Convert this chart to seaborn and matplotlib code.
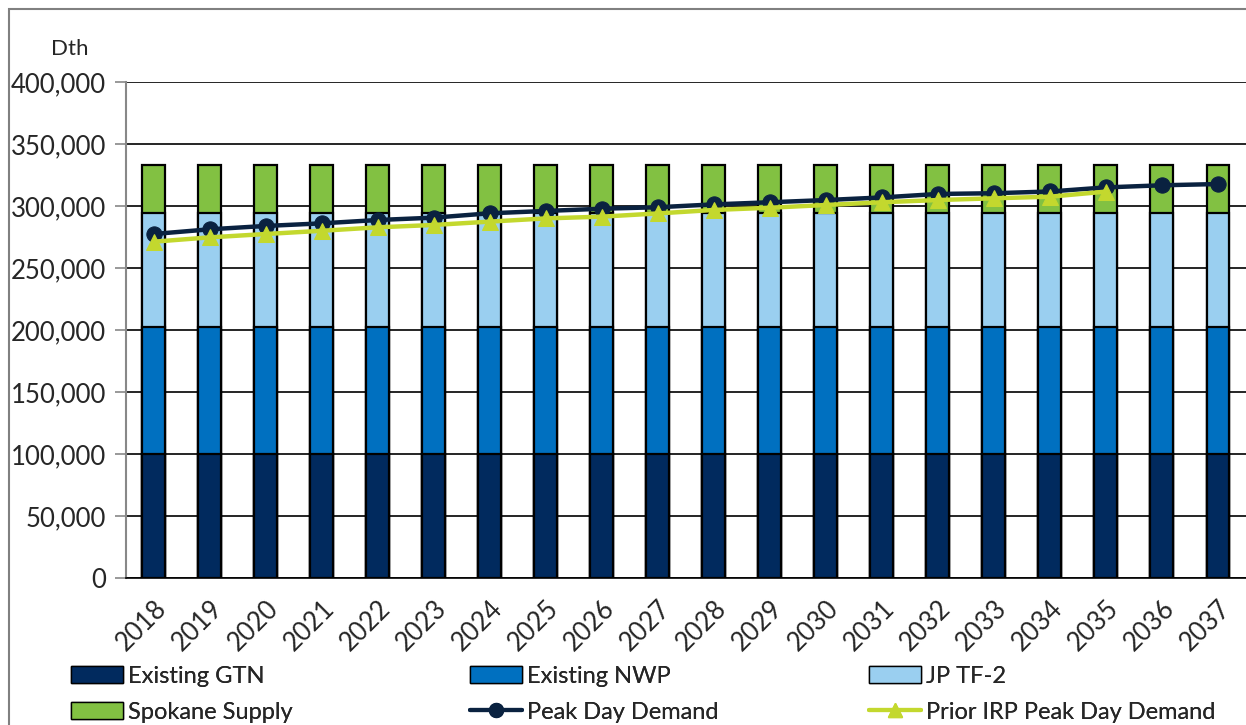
import numpy as np
import pandas as pd
import matplotlib
matplotlib.use('Agg')
import matplotlib.pyplot as plt
from matplotlib.patches import Patch, Rectangle
from matplotlib.lines import Line2D
from matplotlib.ticker import FuncFormatter
import seaborn as sns

# %%
years = [str(y) for y in range(2018, 2038)]
gtn = [100000] * 20
nwp = [102400] * 20
jp_tf2 = [91700] * 20
spokane = [38900] * 20
peak_day = [277400, 281200, 283900, 286000, 288700, 290600, 294100, 296000, 297800, 299000,
            301300, 303000, 304800, 306900, 309700, 310300, 311700, 315000, 316700, 317700]
prior_irp = [271200, 274700, 277400, 280000, 282800, 284700, 287400, 290000, 291400, 294000,
             296800, 298600, 300800, 303000, 304800, 306200, 307500, 311600]

c_gtn, c_nwp, c_jp, c_spk = '#012A5E', '#0070C0', '#9ACFF0', '#82C142'
c_peak, c_prior = '#0A2240', '#C3D82E'

df = pd.DataFrame({'year': years, 'gtn': gtn, 'nwp': nwp, 'jp': jp_tf2, 'spk': spokane})
df['s1'] = df['gtn']
df['s2'] = df['s1'] + df['nwp']
df['s3'] = df['s2'] + df['jp']
df['s4'] = df['s3'] + df['spk']

# %%
sns.set_style('white')
plt.rcParams['font.family'] = ['Lato', 'DejaVu Sans']

fig = plt.figure(figsize=(12.46, 7.25), dpi=100)
ax = fig.add_axes([0.1009, 0.2028, 0.8991, 0.6841])
ax.set_axisbelow(True)
ax.yaxis.grid(True, color='black', lw=1.2)

# stacked bars: draw totals from the top layer down
for col, c in [('s4', c_spk), ('s3', c_jp), ('s2', c_nwp), ('s1', c_gtn)]:
    sns.barplot(data=df, x='year', y=col, color=c, width=0.41, saturation=1,
                edgecolor='black', linewidth=1.6, ax=ax)

xs = np.arange(len(peak_day))
sns.lineplot(x=xs, y=peak_day, color=c_peak, lw=3.2, marker='o', markersize=11,
             markeredgecolor=c_peak, ax=ax, zorder=5)
sns.lineplot(x=xs[:len(prior_irp)], y=prior_irp, color=c_prior, lw=3.2, marker='^', markersize=11,
             markeredgecolor=c_prior, ax=ax, zorder=6)

ax.set_xlim(-0.5, len(years) - 0.5)
ax.set_ylim(0, 400000)
ax.set_yticks(np.arange(0, 400001, 50000))
ax.yaxis.set_major_formatter(FuncFormatter(lambda v, p: f'{int(v):,}'))
ax.set_xlabel('')
ax.set_ylabel('')
ax.set_xticks(xs)
ax.set_xticklabels(years, rotation=45, ha='right', rotation_mode='anchor')
ax.set_xticks(np.arange(-0.5, len(years)), minor=True)
ax.tick_params(axis='x', which='major', length=0, labelsize=18.5, pad=13)
ax.tick_params(axis='x', which='minor', length=7, color='#555555', width=1.2, direction='out')
ax.tick_params(axis='y', length=8, color='#888888', width=1.2, labelsize=18.5, pad=6, left=True)
for s in ['top', 'right']:
    ax.spines[s].set_visible(False)
ax.spines['left'].set_color('#888888')
ax.spines['left'].set_linewidth(1.5)
ax.spines['bottom'].set_color('black')
ax.spines['bottom'].set_linewidth(1.2)

fig.text(70 / 1246, 1 - 49 / 725, 'Dth', fontsize=16, ha='center', va='center')

# outer chart border
fig.add_artist(Rectangle((8.5 / 1246, -0.1), 1.2, 1 - 9 / 725 + 0.1, transform=fig.transFigure,
                         fill=False, edgecolor='#808080', lw=1.5))

# legend, three equal columns like the original
cols = [
    [(Patch(facecolor=c_gtn, edgecolor='black'), 'Existing GTN'),
     (Patch(facecolor=c_spk, edgecolor='black'), 'Spokane Supply')],
    [(Patch(facecolor=c_nwp, edgecolor='black'), 'Existing NWP'),
     (Line2D([], [], color=c_peak, lw=3, marker='o', markersize=10), 'Peak Day Demand')],
    [(Patch(facecolor=c_jp, edgecolor='black'), 'JP TF-2'),
     (Line2D([], [], color=c_prior, lw=3, marker='^', markersize=10), 'Prior IRP Peak Day Demand')],
]
for i, entries in enumerate(cols):
    x0 = [71, 470, 869][i] / 1246
    leg = fig.legend([h for h, _ in entries], [l for _, l in entries], loc='upper left',
                     bbox_to_anchor=(x0, 1 - 666 / 725), frameon=False, fontsize=17,
                     handlelength=2.2, handleheight=0.75, handletextpad=0.2, labelspacing=0.62,
                     borderpad=0, borderaxespad=0)
    fig.add_artist(leg)

fig.savefig('out.png', dpi=100)
